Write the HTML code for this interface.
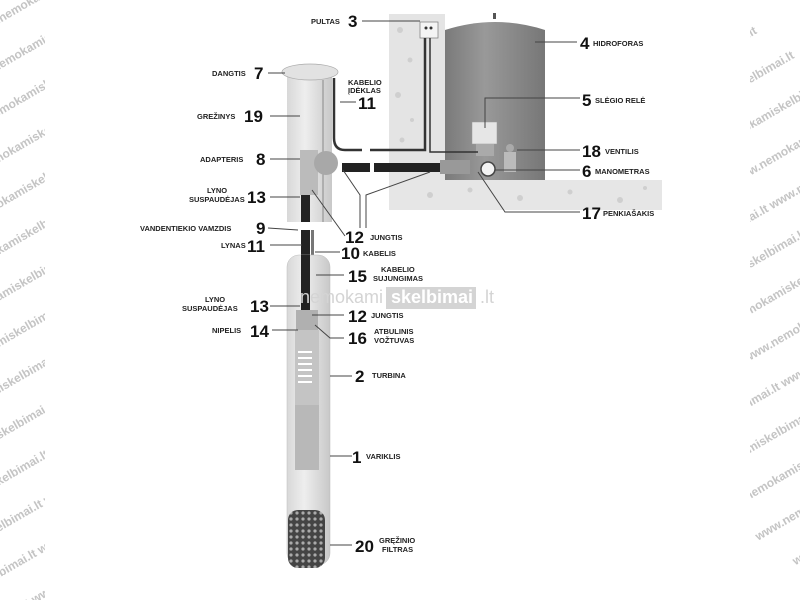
<!DOCTYPE html>
<html><head><meta charset="utf-8"><style>
html,body{margin:0;padding:0;background:#fff;width:800px;height:600px;overflow:hidden}
svg{display:block}
.n{font:bold 17px "Liberation Sans",sans-serif;fill:#111}
.t{font:bold 7.5px "Liberation Sans",sans-serif;fill:#222}
.w{font:bold 12px "Liberation Sans",sans-serif;fill:#c4c4c4}
.l{stroke:#444;stroke-width:1;fill:none}
</style></head><body>
<svg width="800" height="600" viewBox="0 0 800 600">
<defs>
<pattern id="dots" width="6" height="6" patternUnits="userSpaceOnUse"><rect width="6" height="6" fill="#444"/><circle cx="3" cy="3" r="1.6" fill="#aaa"/></pattern>
<linearGradient id="pipe" x1="0" x2="1"><stop offset="0" stop-color="#d8d8d8"/><stop offset=".4" stop-color="#eeeeee"/><stop offset="1" stop-color="#c8c8c8"/></linearGradient>
<linearGradient id="tank" x1="0" x2="1"><stop offset="0" stop-color="#7a7a7a"/><stop offset=".4" stop-color="#999"/><stop offset="1" stop-color="#777"/></linearGradient>
<clipPath id="cl"><rect x="0" y="0" width="45" height="600"/></clipPath>
<clipPath id="cr"><rect x="750" y="0" width="50" height="600"/></clipPath>
<g id="wm">
<text class="w" x="0" y="0">www.nemokamiskelbimai.lt www.nemokamiskelbimai.lt www.nemokamiskelbimai.lt</text>
</g>
</defs>
<!-- watermark strips -->
<g clip-path="url(#cl)">
<g transform="rotate(-30)">
<use href="#wm" x="-200" y="20"/><use href="#wm" x="-230" y="60"/><use href="#wm" x="-260" y="100"/><use href="#wm" x="-290" y="140"/><use href="#wm" x="-320" y="180"/><use href="#wm" x="-350" y="220"/><use href="#wm" x="-380" y="260"/><use href="#wm" x="-410" y="300"/><use href="#wm" x="-440" y="340"/><use href="#wm" x="-470" y="380"/><use href="#wm" x="-500" y="420"/><use href="#wm" x="-530" y="460"/><use href="#wm" x="-560" y="500"/><use href="#wm" x="-590" y="540"/><use href="#wm" x="-620" y="580"/>
</g></g>
<g clip-path="url(#cr)">
<g transform="rotate(-30 775 300)">
<use href="#wm" x="400" y="20"/><use href="#wm" x="420" y="60"/><use href="#wm" x="440" y="100"/><use href="#wm" x="460" y="140"/><use href="#wm" x="480" y="180"/><use href="#wm" x="500" y="220"/><use href="#wm" x="520" y="260"/><use href="#wm" x="540" y="300"/><use href="#wm" x="560" y="340"/><use href="#wm" x="580" y="380"/><use href="#wm" x="600" y="420"/><use href="#wm" x="620" y="460"/><use href="#wm" x="640" y="500"/><use href="#wm" x="660" y="540"/><use href="#wm" x="680" y="580"/>
</g></g>

<!-- wall & floor -->
<rect x="389" y="14" width="56" height="196" fill="#e4e4e4"/>
<rect x="389" y="180" width="273" height="30" fill="#e6e6e6"/>
<g fill="#cfcfcf"><circle cx="400" cy="30" r="3"/><circle cx="410" cy="60" r="2.5"/><circle cx="398" cy="95" r="3"/><circle cx="412" cy="120" r="2"/><circle cx="402" cy="140" r="2.5"/><circle cx="430" cy="195" r="3"/><circle cx="470" cy="190" r="2.5"/><circle cx="520" cy="198" r="3"/><circle cx="570" cy="192" r="2.5"/><circle cx="620" cy="200" r="3"/><circle cx="645" cy="188" r="2"/></g>
<!-- tank -->
<path d="M445 30 Q495 14 545 30 L545 180 L445 180 Z" fill="url(#tank)"/>
<rect x="493" y="13" width="3" height="6" fill="#555"/>
<rect x="472" y="122" width="25" height="22" fill="#e6e6e6" stroke="#999" stroke-width=".5"/>
<rect x="476" y="144" width="18" height="12" fill="#aaa"/>
<rect x="504" y="152" width="12" height="20" fill="#bbb"/>
<circle cx="510" cy="148" r="4" fill="#aaa"/>
<circle cx="488" cy="169" r="7" fill="#f2f2f2" stroke="#444" stroke-width="1.5"/>
<!-- pultas -->
<rect x="420" y="22" width="18" height="16" fill="#f4f4f4" stroke="#777" stroke-width=".7"/>
<circle cx="426" cy="28" r="1.5" fill="#333"/><circle cx="431" cy="28" r="1.5" fill="#333"/>
<!-- cables -->
<path d="M425 38 V150 H370 M362 150 H345 Q334 150 334 138 V78" stroke="#333" stroke-width="2.5" fill="none"/>
<path d="M430 38 V152 H478" stroke="#333" stroke-width="1.5" fill="none"/>
<!-- upper casing -->
<rect x="287" y="72" width="45" height="150" fill="url(#pipe)"/>
<ellipse cx="310" cy="72" rx="28" ry="8" fill="#e2e2e2" stroke="#aaa" stroke-width=".7"/>
<line x1="323" y1="80" x2="323" y2="222" stroke="#888"/>
<rect x="342" y="163" width="28" height="9" fill="#222"/>
<rect x="374" y="163" width="70" height="9" fill="#222"/>
<rect x="440" y="160" width="30" height="14" fill="#999"/>
<rect x="300" y="150" width="18" height="45" fill="#bbb"/>
<circle cx="326" cy="163" r="12" fill="#a8a8a8"/>
<rect x="301" y="195" width="9" height="27" fill="#222"/>
<!-- lower part -->
<rect x="301" y="230" width="9" height="80" fill="#222"/>
<rect x="311" y="230" width="3" height="80" fill="#777"/>
<rect x="287" y="255" width="43" height="310" rx="12" fill="url(#pipe)" stroke="#bbb" stroke-width=".5"/>
<rect x="301" y="255" width="9" height="55" fill="#222"/>
<rect x="296" y="310" width="22" height="20" fill="#b0b0b0"/>
<rect x="295" y="330" width="24" height="75" fill="#c4c4c4"/>
<g stroke="#fff" stroke-width="2"><line x1="298" y1="352" x2="312" y2="352"/><line x1="298" y1="358" x2="312" y2="358"/><line x1="298" y1="364" x2="312" y2="364"/><line x1="298" y1="370" x2="312" y2="370"/><line x1="298" y1="376" x2="312" y2="376"/><line x1="298" y1="382" x2="312" y2="382"/></g>
<rect x="295" y="405" width="24" height="65" fill="#b8b8b8"/>
<rect x="288" y="510" width="37" height="58" rx="10" fill="url(#dots)"/>

<g class="l">
<line x1="362" y1="21" x2="420" y2="21"/>
<line x1="535" y1="42" x2="577" y2="42"/>
<line x1="268" y1="73" x2="285" y2="73"/>
<line x1="340" y1="102" x2="356" y2="102"/>
<line x1="270" y1="116" x2="300" y2="116"/>
<path d="M485 128 V98 H580"/>
<line x1="270" y1="159" x2="300" y2="159"/>
<line x1="517" y1="150" x2="580" y2="150"/>
<line x1="495" y1="170" x2="580" y2="170"/>
<line x1="270" y1="197" x2="300" y2="197"/>
<path d="M478 172 L505 212 H580"/>
<path d="M343 170 L360 195 V228 M430 172 L366 195 V228"/>
<path d="M312 190 L345 236"/>
<path d="M268 228 L298 230"/>
<line x1="270" y1="245" x2="302" y2="245"/>
<line x1="315" y1="252" x2="340" y2="252"/>
<line x1="316" y1="275" x2="344" y2="275"/>
<line x1="270" y1="306" x2="300" y2="306"/>
<line x1="312" y1="315" x2="344" y2="315"/>
<line x1="272" y1="330" x2="298" y2="330"/>
<path d="M315 325 L330 338 H344"/>
<line x1="330" y1="376" x2="352" y2="376"/>
<line x1="330" y1="456" x2="352" y2="456"/>
<line x1="330" y1="545" x2="352" y2="545"/>
</g>

<text class="t" x="311" y="24">PULTAS</text><text class="n" x="348" y="27">3</text>
<text class="n" x="580" y="49">4</text><text class="t" x="593" y="46">HIDROFORAS</text>
<text class="t" x="212" y="76">DANGTIS</text><text class="n" x="254" y="79">7</text>
<text class="t" x="348" y="85">KABELIO</text><text class="t" x="348" y="93">ĮDĖKLAS</text><text class="n" x="358" y="109">11</text>
<text class="t" x="197" y="119">GREŽINYS</text><text class="n" x="244" y="122">19</text>
<text class="n" x="582" y="106">5</text><text class="t" x="595" y="103">SLĖGIO RELĖ</text>
<text class="t" x="200" y="162">ADAPTERIS</text><text class="n" x="256" y="165">8</text>
<text class="n" x="582" y="157">18</text><text class="t" x="605" y="154">VENTILIS</text>
<text class="n" x="582" y="177">6</text><text class="t" x="595" y="174">MANOMETRAS</text>
<text class="t" x="207" y="193">LYNO</text><text class="t" x="189" y="202">SUSPAUDĖJAS</text><text class="n" x="247" y="203">13</text>
<text class="n" x="582" y="219">17</text><text class="t" x="603" y="216">PENKIAŠAKIS</text>
<text class="n" x="345" y="243">12</text><text class="t" x="370" y="240">JUNGTIS</text>
<text class="t" x="140" y="231">VANDENTIEKIO VAMZDIS</text><text class="n" x="256" y="234">9</text>
<text class="t" x="221" y="248">LYNAS</text><text class="n" x="247" y="252">11</text>
<text class="n" x="341" y="259">10</text><text class="t" x="363" y="256">KABELIS</text>
<text class="n" x="348" y="282">15</text><text class="t" x="381" y="272">KABELIO</text><text class="t" x="373" y="281">SUJUNGIMAS</text>
<text class="t" x="205" y="302">LYNO</text><text class="t" x="182" y="311">SUSPAUDĖJAS</text><text class="n" x="250" y="312">13</text>
<text class="n" x="348" y="322">12</text><text class="t" x="371" y="318">JUNGTIS</text>
<text class="t" x="212" y="333">NIPELIS</text><text class="n" x="250" y="337">14</text>
<text class="n" x="348" y="344">16</text><text class="t" x="374" y="334">ATBULINIS</text><text class="t" x="374" y="343">VOŽTUVAS</text>
<text class="n" x="355" y="382">2</text><text class="t" x="372" y="378">TURBINA</text>
<text class="n" x="352" y="463">1</text><text class="t" x="366" y="459">VARIKLIS</text>
<text class="n" x="355" y="552">20</text><text class="t" x="379" y="543">GRĘŽINIO</text><text class="t" x="382" y="552">FILTRAS</text>

<text x="300" y="303" style="font:18px 'Liberation Sans',sans-serif" fill="#d4d4d4">nemokami</text>
<rect x="386" y="287" width="90" height="22" fill="#d4d4d4"/>
<text x="391" y="303" style="font:bold 18px 'Liberation Sans',sans-serif" fill="#fff">skelbimai</text>
<text x="480" y="303" style="font:18px 'Liberation Sans',sans-serif" fill="#d4d4d4">.lt</text>
</svg>
</body></html>
